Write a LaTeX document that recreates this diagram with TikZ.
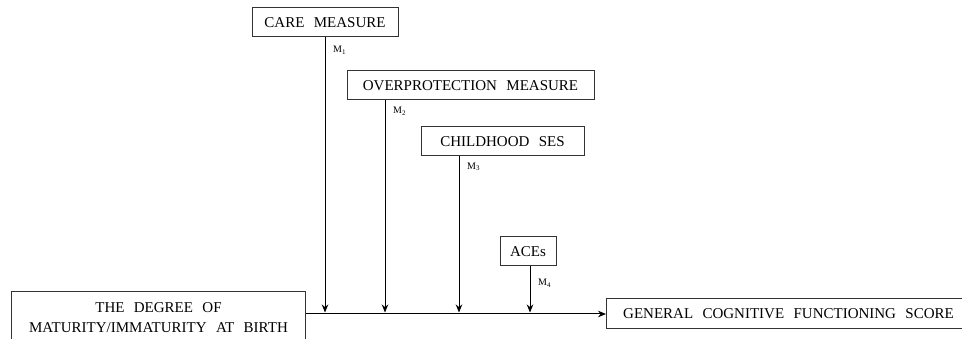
\documentclass[tikz,border=0pt]{standalone}
\usepackage{fontspec}
\setmainfont[WordSpace=2.5]{Liberation Serif}
\usetikzlibrary{positioning, arrows.meta}
\tikzset{
  >={Stealth[length=8pt, width=6.5pt]},
  factor/.style={draw=black!80, line width=1pt, minimum height=29pt, inner sep=0pt,
    font=\fontsize{15}{20}\selectfont},
  mlab/.style={anchor=west, inner sep=0pt, font=\fontsize{10}{11}\selectfont},
  link/.style={->, line width=1pt, shorten >=1.5pt},
}

\begin{document}
\begin{tikzpicture}[x=1pt, y=-1pt]
      \useasboundingbox (0,0) rectangle (962,339);

      \node[factor, minimum width=146pt] (care) at (325,22.5) {CARE MEASURE};
      \node[factor, minimum width=247pt] (over) at (470.5,85.5) {OVERPROTECTION MEASURE};
      \node[factor, minimum width=163pt] (ses) at (502.5,141.5) {CHILDHOOD SES};
      \node[factor, minimum width=56pt] (aces) at (528,251.5) {ACEs};
      \node[factor, minimum width=294pt, minimum height=52pt, anchor=north west, align=center] (birth) at (11,291)
            {THE DEGREE OF\\MATURITY/IMMATURITY AT BIRTH};
      \node[factor, minimum width=364pt, minimum height=30pt, anchor=west] (gcf) at (606,314)
            {GENERAL COGNITIVE FUNCTIONING SCORE};

      \coordinate (c2) at (385,314);
      \coordinate (c3) at (459,314);
      \coordinate (c4) at (530,314);

      \node[mlab] (m1) at (333,50)  {M\textsubscript{1}};
      \node[mlab] (m2) at (393,111) {M\textsubscript{2}};
      \node[mlab] (m3) at (467,167) {M\textsubscript{3}};
      \node[mlab] (m4) at (538,283) {M\textsubscript{4}};

      \draw[link, shorten >=0pt] (birth.east |- gcf.west) -- (gcf.west);
      \draw[link] (care.south) -- (care.south |- gcf.west);
      \draw[link] (over.south -| c2) -- (c2);
      \draw[link] (ses.south -| c3) -- (c3);
      \draw[link] (aces.south -| c4) -- (c4);
\end{tikzpicture}
\end{document}
